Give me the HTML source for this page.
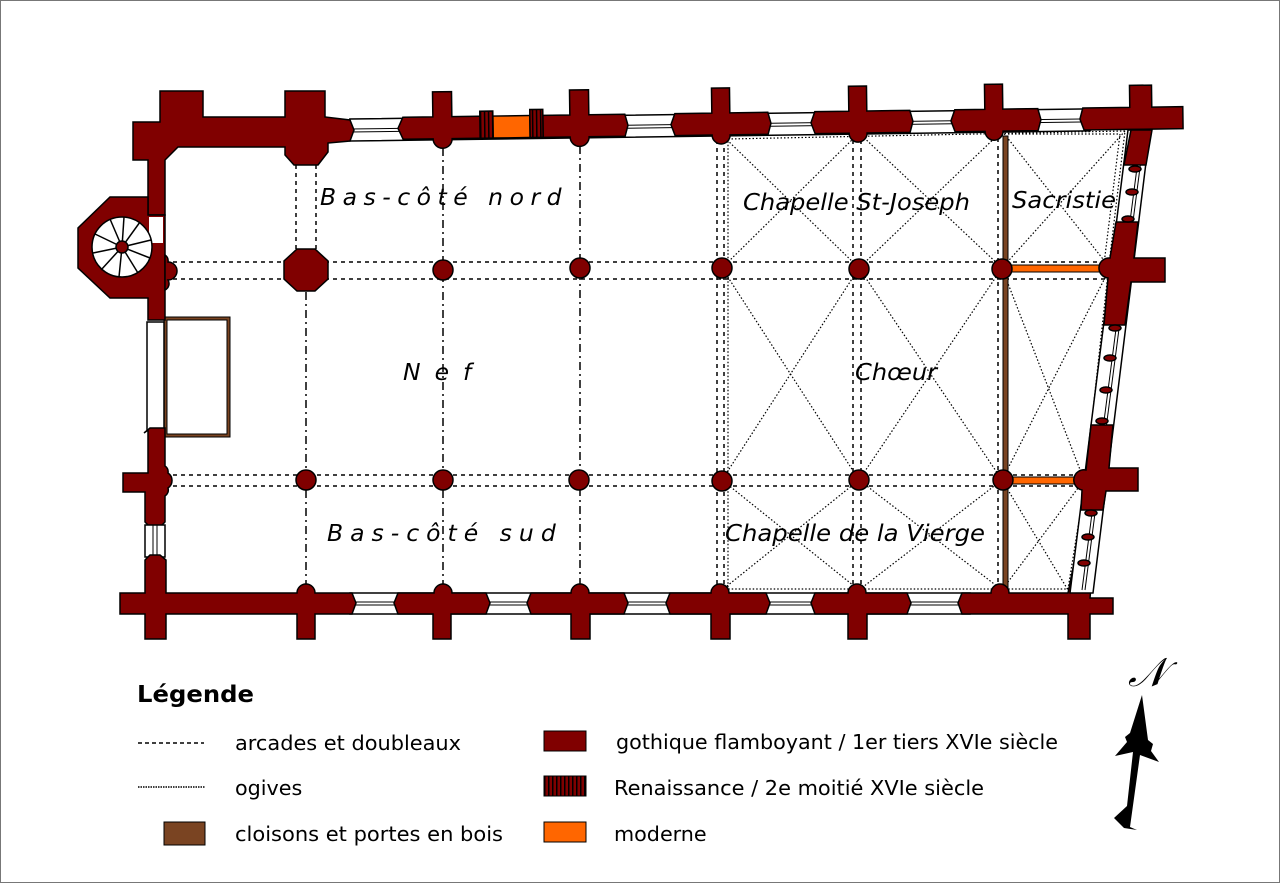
<!DOCTYPE html>
<html><head><meta charset="utf-8"><style>
html,body{margin:0;padding:0;background:#fff}
svg{display:block}
text{font-family:"DejaVu Sans","Liberation Sans",sans-serif}
</style></head><body>
<svg width="1280" height="883" viewBox="0 0 1280 883" xmlns="http://www.w3.org/2000/svg">
<defs>
<pattern id="ren" width="4" height="4" patternUnits="userSpaceOnUse"><rect width="4" height="4" fill="#800000"/><rect width="1.5" height="4" fill="#000"/></pattern>
</defs>
<rect x="0.5" y="0.5" width="1279" height="882" fill="#fff" stroke="#777" stroke-width="1"/>

<g fill="none" stroke="#000" stroke-width="1.5">
 <g stroke-dasharray="4,4">
  <line x1="165" y1="262" x2="1108" y2="262"/><line x1="165" y1="279" x2="1106" y2="279"/>
  <line x1="165" y1="475" x2="1086" y2="475"/><line x1="165" y1="486" x2="1084" y2="486"/>
  <line x1="296" y1="165" x2="296" y2="250"/><line x1="316" y1="165" x2="316" y2="250"/>
  <line x1="717" y1="140" x2="717" y2="590"/><line x1="724" y1="140" x2="724" y2="590"/>
  <line x1="853" y1="140" x2="853" y2="590"/><line x1="861" y1="140" x2="861" y2="590"/>
  <line x1="998" y1="138" x2="998" y2="590"/>
 </g>
 <g stroke-dasharray="8,4,2,4">
  <line x1="306" y1="292" x2="306" y2="593"/>
  <line x1="443" y1="148" x2="443" y2="593"/>
  <line x1="580" y1="146" x2="580" y2="593"/>
 </g>
</g>
<g fill="none" stroke="#000" stroke-width="1.2" stroke-dasharray="1.5,2">
 <polyline points="728,139 1125,131 1109,264 1085,483 1068,589 728,589 728,139"/>
 <polyline points="1008,134 1120,134 1104,264"/>
 <line x1="722" y1="135" x2="859" y2="268"/><line x1="859" y1="133" x2="722" y2="268"/>
 <line x1="859" y1="133" x2="1002" y2="268"/><line x1="1002" y1="131" x2="859" y2="268"/>
 <line x1="1002" y1="131" x2="1110" y2="268"/><line x1="1125" y1="131" x2="1002" y2="268"/>
 <line x1="722" y1="268" x2="859" y2="480"/><line x1="859" y1="268" x2="722" y2="480"/>
 <line x1="859" y1="268" x2="1002" y2="480"/><line x1="1002" y1="268" x2="859" y2="480"/>
 <line x1="1002" y1="268" x2="1084" y2="480"/><line x1="1110" y1="268" x2="1002" y2="480"/>
 <line x1="722" y1="480" x2="859" y2="590"/><line x1="859" y1="480" x2="722" y2="590"/>
 <line x1="859" y1="480" x2="1002" y2="590"/><line x1="1002" y1="480" x2="859" y2="590"/>
 <line x1="1002" y1="480" x2="1068" y2="590"/><line x1="1084" y1="480" x2="1002" y2="590"/>
</g>

<rect x="1003" y="136" width="5" height="455" fill="#7a4422" stroke="#000" stroke-width="1"/>
<rect x="1010" y="265" width="94" height="7" fill="#ff6600" stroke="#000" stroke-width="1"/>
<rect x="1010" y="477" width="70" height="7" fill="#ff6600" stroke="#000" stroke-width="1"/>

<rect x="164" y="317" width="66" height="120" fill="#7a4422" stroke="#000" stroke-width="1"/>
<rect x="167" y="320" width="60" height="114" fill="#fff" stroke="#000" stroke-width="1"/>

<g stroke="#000" stroke-width="1.5">
<g transform="rotate(-0.78 350 129)">
 <rect x="350" y="119" width="740" height="22" fill="#fff"/>
 <line x1="350" y1="129" x2="1090" y2="129" stroke-width="1"/><line x1="350" y1="132" x2="1090" y2="132" stroke-width="1"/>
 <g fill="#800000">
  <path d="M403,118 H433 V93 H452 V118 H487 V140 H452 A9,9 0 0 1 433,140 H403 L398,129 Z"/>
  <path d="M543,118 H570 V93 H589 V118 H625 L628,129 625,140 H589 A9,9 0 0 1 570,140 H543 Z"/>
  <path d="M675,118 H712 V93 H730 V118 H768 L771,129 768,140 H730 A9,9 0 0 1 712,140 H675 L671,129 Z"/>
  <path d="M815,118 H849 V93 H867 V118 H910 L913,129 910,140 H867 A9,9 0 0 1 849,140 H815 L811,129 Z"/>
  <path d="M955,118 H985 V93 H1003 V118 H1038 L1041,129 1038,140 H1003 A9,9 0 0 1 985,140 H955 L951,129 Z"/>
  <path d="M1083,118 H1130 V96 H1152 V118 H1183 V140 H1128 L1084,140 L1080,129 Z"/>
 </g>
 <rect x="493" y="118" width="37" height="22" fill="#ff6600"/>
 <rect x="480" y="113" width="13" height="27" fill="url(#ren)"/>
 <rect x="530" y="112" width="13" height="28" fill="url(#ren)"/>
</g>
<path fill="#800000" d="M133,122 H160 V91 H203 V117 H285 V91 H325 V117 L350,120 L354,130 L350,141 L328,143 V152 L318,165 H294 L285,155 V147 H178 L165,160 V215 H148 V160 H133 Z"/>
<path fill="#800000" d="M110,197 H148 V215 H165 V320 H148 V298 H110 L78,268 V228 Z"/>
<rect x="149" y="217" width="14" height="26" fill="#fff" stroke="none"/>
<circle cx="122" cy="247" r="30" fill="#fff"/>
<g stroke-width="1.5">
 <line x1="122" y1="247" x2="110" y2="219"/><line x1="122" y1="247" x2="124" y2="217"/>
 <line x1="122" y1="247" x2="140" y2="222"/><line x1="122" y1="247" x2="151" y2="240"/>
 <line x1="122" y1="247" x2="150" y2="258"/><line x1="122" y1="247" x2="138" y2="273"/>
 <line x1="122" y1="247" x2="119" y2="277"/><line x1="122" y1="247" x2="101" y2="270"/>
 <line x1="122" y1="247" x2="93" y2="253"/><line x1="122" y1="247" x2="95" y2="234"/>
</g>
<circle cx="122" cy="247" r="6" fill="#800000"/>
<path fill="#800000" d="M165,255 A7,7 0 0 1 168,262 A9,9 0 0 1 168,280 A7,7 0 0 1 165,290 Z"/>
<rect x="147" y="322" width="17" height="108" fill="#fff"/>
<path fill="#800000" d="M148,430 L144,433 L150,428 H165 V466 A7,7 0 0 1 168,473 A9,9 0 0 1 168,488 A7,7 0 0 1 165,496 V522 L160,527 H150 L145,522 V492 H123 V473 H148 Z"/>
<rect x="145" y="525" width="20" height="32" fill="#fff"/>
<line x1="153" y1="525" x2="153" y2="557" stroke-width="1"/><line x1="157" y1="525" x2="157" y2="557" stroke-width="1"/>
<rect x="350" y="593" width="620" height="21" fill="#fff"/>
<line x1="350" y1="602" x2="970" y2="602" stroke-width="1"/><line x1="350" y1="605" x2="970" y2="605" stroke-width="1"/>
<g fill="#800000">
 <path d="M145,560 L150,555 H160 L166,560 V593 H297 A9,9 0 0 1 315,593 H352 L356,603 352,614 H315 V639 H297 V614 H166 V639 H145 V614 H120 V593 H145 Z"/>
 <path d="M398,593 H434 A9,9 0 0 1 452,593 H486 L490,603 486,614 H451 V639 H433 V614 H398 L394,603 Z"/>
 <path d="M531,593 H571 A9,9 0 0 1 589,593 H624 L628,603 624,614 H590 V639 H571 V614 H531 L527,603 Z"/>
 <path d="M670,593 H711 A9,9 0 0 1 729,593 H766 L770,603 766,614 H730 V639 H711 V614 H670 L666,603 Z"/>
 <path d="M815,593 H848 A9,9 0 0 1 866,593 H907 L911,603 907,614 H867 V639 H848 V614 H815 L811,603 Z"/>
 <path d="M962,593 H991 A9,9 0 0 1 1009,593 H1068 L1074,563 H1093 L1090,598 H1113 V614 H1090 V639 H1068 V614 H962 L958,603 Z"/>
</g>
<polygon fill="#fff" points="1128,130 1150,130 1093,593 1070,593"/>
<line x1="1138" y1="160" x2="1082" y2="590" stroke-width="1"/><line x1="1141" y1="160" x2="1085" y2="590" stroke-width="1"/>
<g fill="#800000">
 <polygon points="1124,165 1146,165 1152,130 1131,130"/>
 <path d="M1116,222 L1138,222 L1134,258 H1165 V282 H1131 L1125,325 H1104 L1108,278 A10,10 0 0 1 1110,258 Z"/>
 <path d="M1091,425 L1113,425 L1109,468 H1138 V491 H1106 L1103,510 H1081 L1082,490 A10,10 0 0 1 1086,470 Z"/>
 <ellipse cx="1135" cy="169" rx="6" ry="3"/><ellipse cx="1132" cy="192" rx="6" ry="3"/><ellipse cx="1128" cy="219" rx="6" ry="3"/>
 <ellipse cx="1115" cy="328" rx="6" ry="3"/><ellipse cx="1110" cy="358" rx="6" ry="3"/><ellipse cx="1106" cy="390" rx="6" ry="3"/><ellipse cx="1102" cy="421" rx="6" ry="3"/>
 <ellipse cx="1091" cy="513" rx="6" ry="3"/><ellipse cx="1088" cy="537" rx="6" ry="3"/><ellipse cx="1084" cy="563" rx="6" ry="3"/>
</g>
<g fill="#800000">
 <polygon points="297,249 315,249 328,261 328,279 315,291 297,291 284,279 284,261"/>
 <circle cx="443" cy="270" r="10"/><circle cx="580" cy="268" r="10"/><circle cx="722" cy="268" r="10"/><circle cx="859" cy="269" r="10"/><circle cx="1002" cy="269" r="10"/>
 <circle cx="306" cy="480" r="10"/><circle cx="443" cy="480" r="10"/><circle cx="579" cy="480" r="10"/><circle cx="722" cy="481" r="10"/><circle cx="859" cy="480" r="10"/><circle cx="1003" cy="480" r="10"/>
</g>
</g>

<g font-style="italic" font-size="23.5" fill="#000">
 <text x="320" y="205" letter-spacing="6.5">Bas-côté nord</text>
 <text x="403" y="380" letter-spacing="14">Nef</text>
 <text x="743" y="210" textLength="227" lengthAdjust="spacingAndGlyphs">Chapelle St-Joseph</text>
 <text x="1012" y="208" textLength="104" lengthAdjust="spacingAndGlyphs">Sacristie</text>
 <text x="855" y="380" textLength="82" lengthAdjust="spacingAndGlyphs">Chœur</text>
 <text x="327" y="541" letter-spacing="7">Bas-côté sud</text>
 <text x="725" y="541" textLength="260" lengthAdjust="spacingAndGlyphs">Chapelle de la Vierge</text>
</g>

<text x="137" y="702" font-size="23.5" font-weight="bold" textLength="117" lengthAdjust="spacingAndGlyphs">Légende</text>
<line x1="138" y1="743" x2="204" y2="743" stroke="#000" stroke-width="1.5" stroke-dasharray="4,3"/>
<line x1="138" y1="787" x2="205" y2="787" stroke="#000" stroke-width="1.5" stroke-dasharray="1.5,1"/>
<rect x="164" y="822" width="41" height="23" fill="#7a4422" stroke="#000" stroke-width="1"/>
<g font-size="20.7">
 <text x="235" y="750" textLength="226" lengthAdjust="spacingAndGlyphs">arcades et doubleaux</text>
 <text x="235" y="795">ogives</text>
 <text x="235" y="841" textLength="268" lengthAdjust="spacingAndGlyphs">cloisons et portes en bois</text>
 <text x="616" y="749" textLength="442" lengthAdjust="spacingAndGlyphs">gothique flamboyant / 1er tiers XVIe siècle</text>
 <text x="614" y="795" textLength="370" lengthAdjust="spacingAndGlyphs">Renaissance / 2e moitié XVIe siècle</text>
 <text x="614" y="841">moderne</text>
</g>
<rect x="544" y="731" width="42" height="20" fill="#800000" stroke="#000" stroke-width="1"/>
<rect x="544" y="776" width="42" height="20" fill="url(#ren)" stroke="#000" stroke-width="1"/>
<rect x="544" y="822" width="42" height="20" fill="#ff6600" stroke="#000" stroke-width="1"/>

<text x="1128" y="686" font-family="Liberation Serif,serif" font-style="italic" font-size="40">𝒩</text>
<polygon points="1142,695 1148,740 1153,744 1151,751 1159,762 1140,755 1130,827 1137,830 1124,828 1114,818 1127,806 1133,752 1115,756 1127,742 1125,737 1130,733" fill="#000"/>
</svg>
</body></html>
